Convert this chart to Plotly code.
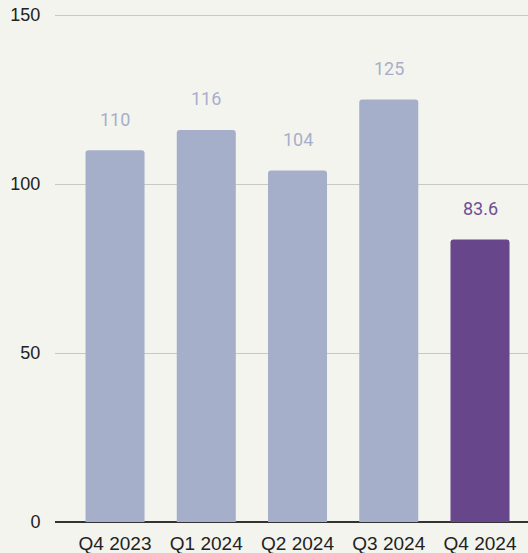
import plotly.graph_objects as go

categories = ["Q4 2023", "Q1 2024", "Q2 2024", "Q3 2024", "Q4 2024"]
values = [110, 116, 104, 125, 83.6]
value_labels = ["110", "116", "104", "125", "83.6"]
bar_colors = ["#a6afca", "#a6afca", "#a6afca", "#a6afca", "#67468c"]
label_colors = ["#a6afca", "#a6afca", "#a6afca", "#a6afca", "#6e4f94"]
y_ticks = [0, 50, 100, 150]

fig = go.Figure()
fig.add_trace(go.Bar(
    x=categories, y=values,
    marker=dict(color=bar_colors, cornerradius=3, line=dict(width=0)),
    width=0.647,
    hoverinfo="skip",
))

for c, v, t, col in zip(categories, values, value_labels, label_colors):
    fig.add_annotation(x=c, y=v, text=t, showarrow=False, yshift=31,
                       font=dict(family="Roboto", size=18, color=col))

fig.update_layout(
    width=528, height=553,
    margin=dict(l=55, r=0, t=14, b=31),
    paper_bgcolor="#f4f4ef", plot_bgcolor="#f4f4ef",
    showlegend=False,
    font=dict(family="Liberation Sans", size=18, color="#222222"),
)
fig.update_xaxes(range=[-0.658, 4.526], showgrid=False, showline=False,
                 automargin=False, ticks="outside", ticklen=4,
                 tickcolor="rgba(0,0,0,0)",
                 tickfont=dict(family="Liberation Sans", size=19, color="#222222"))
fig.update_yaxes(range=[0, 150.3], tickvals=y_ticks, showgrid=True,
                 automargin=False,
                 gridcolor="#c9c9c4", gridwidth=1.3, zeroline=True,
                 zerolinecolor="#333333", zerolinewidth=1.5,
                 ticks="outside", ticklen=10, tickcolor="rgba(0,0,0,0)",
                 tickfont=dict(family="Liberation Sans", size=18, color="#222222"))

fig.write_html("out.html", config={"displayModeBar": False},
               post_script="document.body.style.margin='0';document.body.style.background='#f4f4ef';")
